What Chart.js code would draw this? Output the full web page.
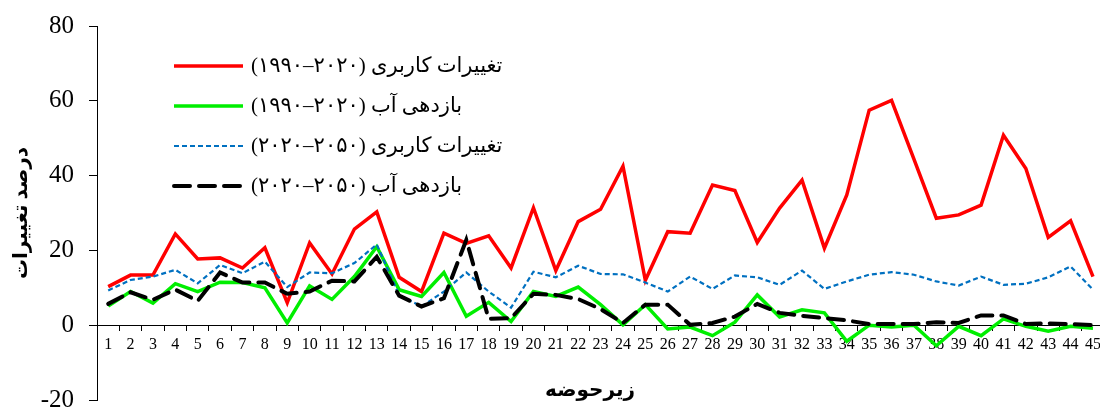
<!DOCTYPE html>
<html lang="fa">
<head>
<meta charset="utf-8">
<script src="https://cdn.jsdelivr.net/npm/chart.js@4"></script>
<style>
    html, body { margin: 0; padding: 0; background: #fff; overflow: hidden; }
    #wrap { position: relative; width: 1106px; height: 407px; }
</style>
</head>
<body>
<div id="wrap"><canvas id="changeChart"></canvas></div>
<script>
// زیرحوضه ها
const subBasins = ['1','2','3','4','5','6','7','8','9','10','11','12','13','14','15',
    '16','17','18','19','20','21','22','23','24','25','26','27','28','29','30',
    '31','32','33','34','35','36','37','38','39','40','41','42','43','44','45'];

// تغییرات کاربری (1990-2020)
const landUsePast = [10.3, 13.4, 13.4, 24.4, 17.7, 18.0, 15.3, 20.7, 6.0, 22.0,
    13.7, 25.7, 30.3, 12.8, 9.0, 24.6, 21.9, 23.9, 15.3, 31.4,
    14.6, 27.7, 31.0, 42.5, 12.0, 25.0, 24.6, 37.5, 36.0, 22.1,
    31.3, 38.8, 20.6, 34.8, 57.5, 60.1, 44.4, 28.6, 29.5, 32.1,
    50.8, 41.9, 23.5, 27.9, 13.0];

// بازدهی آب (1990-2020)
const waterYieldPast = [5.1, 9.0, 5.9, 11.1, 9.0, 11.5, 11.4, 10.0, 0.6, 10.5,
    6.9, 13.0, 21.0, 9.5, 7.7, 14.1, 2.4, 6.1, 1.0, 9.0,
    7.7, 10.2, 5.5, 0.1, 5.5, -1.0, -0.5, -2.8, 0.8, 8.1,
    2.2, 4.1, 3.3, -4.3, 0.0, -0.5, 0.0, -5.5, -0.3, -2.8,
    1.7, -0.3, -1.6, -0.3, -0.8];

// تغییرات کاربری (2020-2050)
const landUseFuture = [9.3, 12.1, 13.0, 14.8, 11.2, 16.1, 13.9, 17.0, 10.2, 14.1,
    13.9, 16.6, 21.6, 8.0, 5.0, 9.0, 14.1, 9.0, 4.7, 14.3,
    12.8, 15.9, 13.7, 13.6, 11.4, 9.0, 13.0, 9.7, 13.3, 12.8,
    10.8, 14.6, 9.7, 11.7, 13.5, 14.2, 13.5, 11.7, 10.6, 13.0,
    10.8, 11.1, 12.8, 15.7, 9.5];

// بازدهی آب (2020-2050)
const waterYieldFuture = [5.7, 8.8, 6.8, 9.5, 6.5, 14.1, 11.4, 11.4, 8.4, 9.0,
    11.9, 11.7, 18.3, 7.9, 5.0, 7.2, 22.8, 1.7, 1.9, 8.4,
    8.1, 7.0, 4.3, 0.6, 5.5, 5.5, 0.1, 0.6, 2.3, 5.7,
    3.3, 2.5, 1.9, 1.3, 0.3, 0.3, 0.3, 0.8, 0.6, 2.6,
    2.6, 0.3, 0.5, 0.3, 0.0];

const seriesNames = [
    'تغییرات کاربری (۲۰۲۰–۱۹۹۰)',
    'بازدهی آب (۲۰۲۰–۱۹۹۰)',
    'تغییرات کاربری (۲۰۵۰–۲۰۲۰)',
    'بازدهی آب (۲۰۵۰–۲۰۲۰)'
];

const yTicks = [-20, 0, 20, 40, 60, 80];

const serifFont = "'Liberation Serif', 'DejaVu Sans', serif";

// legend inside the plot, drawn by hand like the Excel one
const insideLegend = {
    id: 'insideLegend',
    afterDraw(chart) {
        const ctx = chart.ctx;
        const rows = [66, 106, 146, 186];
        chart.data.datasets.forEach((ds, i) => {
            const y = rows[i];
            ctx.save();
            ctx.strokeStyle = ds.borderColor;
            ctx.lineWidth = ds.borderWidth;
            ctx.setLineDash(ds.borderDash || []);
            ctx.lineCap = ds.borderCapStyle || 'butt';
            ctx.beginPath();
            ctx.moveTo(174, y);
            ctx.lineTo(243, y);
            ctx.stroke();
            ctx.restore();

            ctx.save();
            ctx.fillStyle = '#000';
            ctx.font = '21px ' + serifFont;
            ctx.direction = 'rtl';
            ctx.textAlign = 'left';
            ctx.textBaseline = 'middle';
            ctx.fillText(ds.label, 251, y);
            ctx.restore();
        });

        // عنوان محور افقی
        ctx.save();
        ctx.fillStyle = '#000';
        ctx.font = 'bold 20px ' + serifFont;
        ctx.direction = 'rtl';
        ctx.textAlign = 'center';
        ctx.textBaseline = 'middle';
        ctx.fillText('زیرحوضه', 590, 391);
        ctx.restore();
    }
};

const ctx = document.getElementById('changeChart').getContext('2d');

new Chart(ctx, {
    type: 'line',
    data: {
        labels: subBasins,
        datasets: [
            {
                label: seriesNames[0],
                data: landUsePast,
                borderColor: '#ff0000',
                borderWidth: 3.5,
                order: 4
            },
            {
                label: seriesNames[1],
                data: waterYieldPast,
                borderColor: '#00ee00',
                borderWidth: 3.5,
                order: 3
            },
            {
                label: seriesNames[2],
                data: landUseFuture,
                borderColor: '#0070c0',
                borderWidth: 2.2,
                borderDash: [5, 3],
                order: 2
            },
            {
                label: seriesNames[3],
                data: waterYieldFuture,
                borderColor: '#000000',
                borderWidth: 4,
                borderDash: [16, 9],
                borderCapStyle: 'round',
                order: 1
            }
        ]
    },
    options: {
        responsive: true,
        maintainAspectRatio: false,
        animation: false,
        layout: {
            padding: { top: 26, bottom: 7, left: 0, right: 1 }
        },
        elements: {
            point: { radius: 0, hoverRadius: 0 },
            line: { tension: 0, fill: false, borderJoinStyle: 'miter' }
        },
        scales: {
            x: {
                type: 'category',
                position: { y: 0 },
                offset: true,
                afterFit(scale) {
                    // the axis sits on y = 0, so it should not eat layout space
                    scale.height = 0;
                },
                grid: {
                    offset: true,
                    drawOnChartArea: false,
                    drawTicks: true,
                    tickLength: 5,
                    color: '#000'
                },
                border: { display: true, color: '#000', width: 1 },
                ticks: {
                    autoSkip: false,
                    maxRotation: 0,
                    minRotation: 0,
                    padding: 5,
                    color: '#000',
                    font: { family: serifFont, size: 16 }
                }
            },
            y: {
                min: -20,
                max: 80,
                afterBuildTicks(scale) {
                    scale.ticks = yTicks.map(v => ({ value: v }));
                },
                afterFit(scale) {
                    scale.width = 97;
                    // tick label padding should not push the plot area in
                    scale.paddingTop = 0;
                    scale.paddingBottom = 0;
                },
                grid: {
                    drawOnChartArea: false,
                    drawTicks: true,
                    tickLength: 8,
                    color: '#000'
                },
                border: { display: true, color: '#000', width: 1 },
                ticks: {
                    padding: 15,
                    color: '#000',
                    font: { family: serifFont, size: 25 }
                },
                title: {
                    display: true,
                    text: 'درصد تغییرات',
                    color: '#000',
                    padding: { top: 10, bottom: 0 },
                    font: { family: serifFont, size: 20, weight: 'bold' }
                }
            }
        },
        plugins: {
            legend: { display: false },
            tooltip: { enabled: false }
        }
    },
    plugins: [insideLegend]
});
</script>
</body>
</html>
